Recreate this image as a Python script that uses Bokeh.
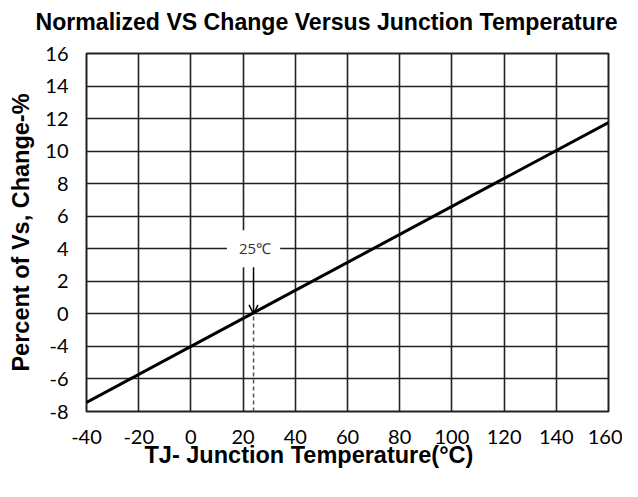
import numpy as np
from bokeh.plotting import figure
from bokeh.models import Range1d, FixedTicker, Label, Arrow, OpenHead, Title
from bokeh.embed import file_html
from bokeh.resources import INLINE

# ---- data ----
temperature = [-40, 160]            # junction temperature, deg C (line end points)
vs_change = [-7.44, 11.76]          # percent change of Vs at those temperatures
x_ticks = [-40, -20, 0, 20, 40, 60, 80, 100, 120, 140, 160]
y_tick_labels = [-8, -6, -4, 0, 2, 4, 6, 8, 10, 12, 14, 16]  # as printed (no -2)
marker_temp = 24                    # where the 25 C marker sits
marker_text = "25℃"
marker_label_level = 4              # y label level where the marker text sits
marker_cross_level = 0

# the printed y axis is evenly spaced per label -> map values onto label index
y_index = list(range(len(y_tick_labels)))
def to_pos(v):
    return np.interp(v, y_tick_labels, y_index)

p = figure(width=622, height=481, output_backend="svg", toolbar_location=None,
           x_range=Range1d(x_ticks[0], x_ticks[-1]), y_range=Range1d(y_index[0], y_index[-1]),
           min_border_left=86, min_border_right=14, min_border_top=53, min_border_bottom=70)

# spacer between plot frame and title (inner above panel), then the title (outer)
p.add_layout(Title(text=" ", text_font_size="1px", standoff=16), "above")
p.add_layout(Title(text="Normalized VS Change Versus Junction Temperature", align="left", offset=-51,
                   text_font="Liberation Sans", text_font_size="23.1px", text_font_style="bold",
                   text_color="black", standoff=0), "above")

FONT_TICK = "Lato"
p.xaxis.ticker = FixedTicker(ticks=x_ticks)
p.xaxis.major_label_overrides = {v: str(v) for v in x_ticks}
p.yaxis.ticker = FixedTicker(ticks=y_index)
p.yaxis.major_label_overrides = {i: str(v) for i, v in zip(y_index, y_tick_labels)}
for ax in (p.xaxis, p.yaxis):
    ax.axis_line_color = None
    ax.major_tick_line_color = None
    ax.minor_tick_line_color = None
    ax.major_label_text_font = FONT_TICK
    ax.major_label_text_font_size = "20px"
    ax.major_label_text_color = "black"
p.xaxis.major_label_standoff = 12
p.yaxis.major_label_standoff = 12

p.yaxis.axis_label = "Percent of Vs, Change-%"
p.yaxis.axis_label_text_font = "Liberation Sans"
p.yaxis.axis_label_text_font_size = "23.5px"
p.yaxis.axis_label_text_font_style = "bold"
p.yaxis.axis_label_text_color = "black"
p.yaxis.axis_label_standoff = 8

p.add_layout(Title(text="TJ- Junction Temperature(°C)", align="left", offset=58,
                   text_font="Liberation Sans", text_font_size="23.5px", text_font_style="bold",
                   text_color="black", standoff=-14), "below")

for g in (p.xgrid, p.ygrid):
    g.grid_line_color = "#222222"
    g.grid_line_width = 1.6
    g.grid_line_alpha = 1.0
p.outline_line_color = "#222222"
p.outline_line_width = 2
p.background_fill_color = "white"
p.border_fill_color = "white"

# main characteristic line
p.line(temperature, [float(v) for v in to_pos(vs_change)], line_color="black", line_width=3)

# 25 C marker: dashed drop line, arrow and label
p.line([marker_temp, marker_temp], [float(to_pos(y_tick_labels[0])), float(to_pos(marker_cross_level))],
       line_color="#555555", line_width=1.5, line_dash="4 3")
p.add_layout(Arrow(x_start=marker_temp, y_start=float(to_pos(marker_label_level)),
                   x_end=marker_temp, y_end=float(to_pos(marker_cross_level)),
                   line_color="black", line_width=1.5,
                   end=OpenHead(size=9, line_color="black", line_width=1.5)))
p.add_layout(Label(x=marker_temp, y=float(to_pos(marker_label_level)), text=marker_text,
                   text_align="center", text_baseline="middle", text_font="Open Sans",
                   text_font_size="15px", text_color="#333333",
                   background_fill_color="white", padding=(12, 9, 8, 9)))

open("out.html", "w").write(file_html(p, INLINE))
